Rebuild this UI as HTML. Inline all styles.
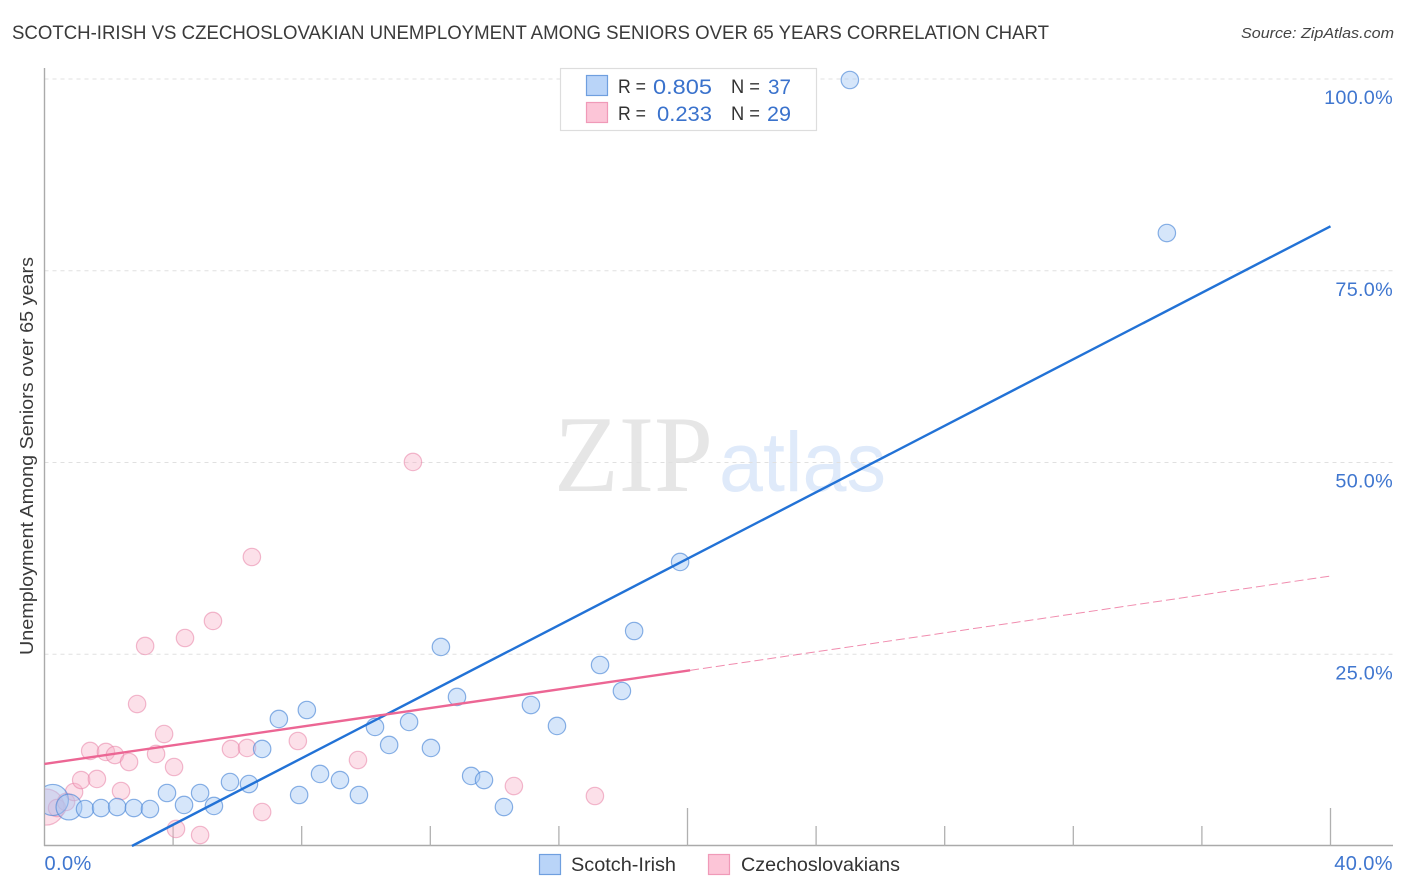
<!DOCTYPE html>
<html lang="en">
<head>
<meta charset="utf-8">
<title>Scotch-Irish vs Czechoslovakian Unemployment Correlation Chart</title>
<style>
html,body{margin:0;padding:0;background:#fff;width:1406px;height:892px;overflow:hidden}
svg{display:block;font-family:"Liberation Sans",sans-serif}
</style>
</head>
<body>
<svg id="chart" xmlns="http://www.w3.org/2000/svg" width="1406" height="892" viewBox="0 0 1406 892">
  <defs>
    <clipPath id="plot-clip"><rect x="45" y="60" width="1348" height="786"/></clipPath>
  </defs>
  <rect x="0" y="0" width="1406" height="892" fill="#ffffff"/>

  <text x="12" y="39" font-size="19" fill="#3a3a3a" textLength="1037" lengthAdjust="spacingAndGlyphs">SCOTCH-IRISH VS CZECHOSLOVAKIAN UNEMPLOYMENT AMONG SENIORS OVER 65 YEARS CORRELATION CHART</text>
  <text x="1241" y="38" font-size="15" font-style="italic" fill="#444" textLength="153" lengthAdjust="spacingAndGlyphs">Source: ZipAtlas.com</text>

  <g>
    <text x="554" y="491" font-family="'Liberation Serif',serif" font-size="109" fill="#e6e6e6" textLength="159" lengthAdjust="spacingAndGlyphs">ZIP</text>
    <text x="719" y="491" font-size="84" fill="#dfeafa" textLength="167" lengthAdjust="spacingAndGlyphs">atlas</text>
  </g>

  <g id="grid"></g>
  <g id="axes"></g>
  <g id="points" clip-path="url(#plot-clip)"></g>
  <g id="trends"></g>
  <g id="labels"></g>

  <text transform="translate(33,456) rotate(-90)" text-anchor="middle" font-size="18.5" fill="#3a3a3a" textLength="398" lengthAdjust="spacingAndGlyphs">Unemployment Among Seniors over 65 years</text>

  <g>
    <rect x="560.5" y="68.5" width="256" height="62" fill="#fff" stroke="#dddddd" stroke-width="1.2"/>
    <rect x="586.5" y="75.5" width="21" height="20" fill="#b9d4f8" stroke="#6f9fdf" stroke-width="1.2"/>
    <rect x="586.5" y="102.5" width="21" height="20" fill="#fcc5d7" stroke="#f09ab8" stroke-width="1.2"/>
    <g font-size="19.5" fill="#333">
      <text x="618" y="93" textLength="28" lengthAdjust="spacingAndGlyphs">R =</text>
      <text x="731" y="93" textLength="29" lengthAdjust="spacingAndGlyphs">N =</text>
      <text x="618" y="120" textLength="28" lengthAdjust="spacingAndGlyphs">R =</text>
      <text x="731" y="120" textLength="29" lengthAdjust="spacingAndGlyphs">N =</text>
    </g>
    <g font-size="21" fill="#3a72cc">
      <text x="653" y="94" textLength="59" lengthAdjust="spacingAndGlyphs">0.805</text>
      <text x="768" y="94" textLength="23" lengthAdjust="spacingAndGlyphs">37</text>
      <text x="657" y="121" textLength="55" lengthAdjust="spacingAndGlyphs">0.233</text>
      <text x="767" y="121" textLength="24" lengthAdjust="spacingAndGlyphs">29</text>
    </g>
  </g>

  <g>
    <rect x="539.5" y="854.5" width="21" height="20" fill="#b9d4f8" stroke="#6f9fdf" stroke-width="1.2"/>
    <text x="571" y="871" font-size="19.5" fill="#333" textLength="105" lengthAdjust="spacingAndGlyphs">Scotch-Irish</text>
    <rect x="708.5" y="854.5" width="21" height="20" fill="#fcc5d7" stroke="#f09ab8" stroke-width="1.2"/>
    <text x="741" y="871" font-size="19.5" fill="#333" textLength="159" lengthAdjust="spacingAndGlyphs">Czechoslovakians</text>
  </g>
</svg>
<script>
// Chart data (percent units)
const scotchIrishX = [0.26,0.76,1.26,1.76,2.26,2.78,3.28,3.81,4.34,4.84,5.27,5.77,6.36,6.77,7.29,8.16,7.92,8.57,9.19,9.78,10.28,10.72,11.34,12.02,12.33,12.83,13.27,13.67,14.29,15.13,15.94,17.28,17.96,18.34,19.77,25.05,34.91];
const scotchIrishY = [6.0,5.08,4.82,4.95,5.08,4.95,4.82,6.91,5.35,6.91,5.22,8.34,8.08,12.65,16.56,17.73,6.65,9.39,8.6,6.65,15.52,13.17,16.17,12.78,25.95,19.43,9.13,8.6,5.08,18.38,15.65,23.6,20.21,28.03,37.03,99.87,79.92];
const scotchIrishWeight = [3.2,2.2,1,1,1,1,1,1,1,1,1,1,1,1,1,1,1,1,1,1,1,1,1,1,1,1,1,1,1,1,1,1,1,1,1,1,1];
const czechX = [0.05,0.39,0.67,0.92,1.14,1.63,1.42,1.91,2.19,2.63,2.38,2.88,3.13,3.47,3.72,4.03,4.09,4.37,4.84,5.24,5.8,6.3,6.45,6.77,7.88,9.75,11.46,14.6,17.12];
const czechY = [5.08,4.95,5.74,7.04,8.6,8.74,12.39,12.26,11.86,10.95,7.17,18.51,26.08,12.0,14.6,10.3,2.22,27.12,1.43,29.34,12.65,12.78,37.68,4.43,13.69,11.21,50.07,7.82,6.52];
const czechWeight = [4.3,1,1,1,1,1,1,1,1,1,1,1,1,1,1,1,1,1,1,1,1,1,1,1,1,1,1,1,1];
const scotchIrishTrendX = [2.72,40];
const scotchIrishTrendY = [0,80.8];
const czechTrendSolidX = [0,20.08];
const czechTrendSolidY = [10.7,22.9];
const czechTrendDashX = [20.08,40];
const czechTrendDashY = [22.9,35.2];
const yTickValues = [25,50,75,100];
const yTickLabels = ['25.0%','50.0%','75.0%','100.0%'];
const xTickValues = [4,8,12,16,20,24,28,32,36,40];
const xMajorTicks = [20,40];
const xEndValues = [0,40];
const xEndLabels = ['0.0%','40.0%'];

const NS = 'http://www.w3.org/2000/svg';
function xScale(v){ return 44.5 + v * 32.15; }
function yScale(v){ return 846 - v * 7.67; }
function make(tag, attrs, parent){
  const el = document.createElementNS(NS, tag);
  for (const k in attrs) el.setAttribute(k, attrs[k]);
  parent.appendChild(el);
  return el;
}
const grid = document.getElementById('grid');
const axes = document.getElementById('axes');
const pts = document.getElementById('points');
const trends = document.getElementById('trends');
const labels = document.getElementById('labels');

yTickValues.forEach(function(v, i){
  const line = make('line', {x1:44.5, x2:1393, y1:yScale(v), y2:yScale(v), stroke:'#e0e0e0', 'stroke-width':1, 'stroke-dasharray':'4 4'}, grid);
  
  
  const t = make('text', {x:1393, y:yScale(v) + 25, 'text-anchor':'end', 'font-size':19.8, 'letter-spacing':0.3, fill:'#3f76cf'}, labels);
  t.textContent = yTickLabels[i];
  
  
});

const yAxis = make('line', {x1:44.5, x2:44.5, y1:68, y2:846, stroke:'#aaaaaa', 'stroke-width':1.4}, axes);


const xAxis = make('line', {x1:44, x2:1393, y1:845.5, y2:845.5, stroke:'#aaaaaa', 'stroke-width':1.4}, axes);


xTickValues.forEach(function(v){
  const len = xMajorTicks.indexOf(v) >= 0 ? 38 : 20;
  const tick = make('line', {x1:xScale(v), x2:xScale(v), y1:846 - len, y2:846, stroke:'#b0b0b0', 'stroke-width':1.3}, axes);
  
  
});
xEndValues.forEach(function(v, i){
  const t = make('text', {x: i === 0 ? xScale(v) : 1393, y:870, 'text-anchor': i === 0 ? 'start' : 'end', 'font-size':20, 'letter-spacing':0.4, fill:'#3f76cf'}, labels);
  t.textContent = xEndLabels[i];
  
  
});

function radius(w){ return 8.7 * Math.sqrt(w); }

czechX.forEach(function(v, i){
  const c = make('circle', {cx:xScale(v), cy:yScale(czechY[i]), r:radius(czechWeight[i]), fill:'rgba(248,178,200,0.4)', stroke:'rgba(232,130,165,0.55)', 'stroke-width':1.2}, pts);
  
  
});
scotchIrishX.forEach(function(v, i){
  const c = make('circle', {cx:xScale(v), cy:yScale(scotchIrishY[i]), r:radius(scotchIrishWeight[i]), fill:'rgba(165,200,243,0.45)', stroke:'rgba(75,135,215,0.65)', 'stroke-width':1.2}, pts);
  
  
});

const trendBlue = make('line', {x1:xScale(scotchIrishTrendX[0]), y1:yScale(scotchIrishTrendY[0]), x2:xScale(scotchIrishTrendX[1]), y2:yScale(scotchIrishTrendY[1]), stroke:'#2272d6', 'stroke-width':2.4}, trends);


const trendPink = make('line', {x1:xScale(czechTrendSolidX[0]), y1:yScale(czechTrendSolidY[0]), x2:xScale(czechTrendSolidX[1]), y2:yScale(czechTrendSolidY[1]), stroke:'#ec6694', 'stroke-width':2.4}, trends);


const trendDash = make('line', {x1:xScale(czechTrendDashX[0]), y1:yScale(czechTrendDashY[0]), x2:xScale(czechTrendDashX[1]), y2:yScale(czechTrendDashY[1]), stroke:'#ec6694', 'stroke-width':1, 'stroke-dasharray':'9 4', opacity:0.75}, trends);


</script>
</body>
</html>
